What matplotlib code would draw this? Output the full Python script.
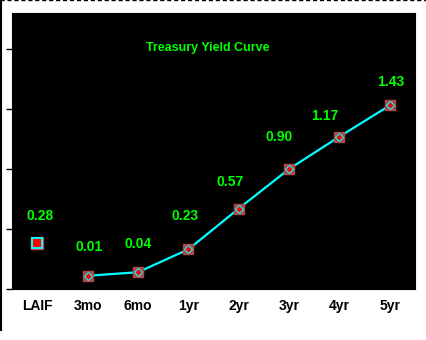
import matplotlib
matplotlib.use("Agg")
import matplotlib.pyplot as plt
from matplotlib.lines import Line2D

plt.rcParams['font.family'] = ['Liberation Sans', 'DejaVu Sans']

# yields in percent
categories = ['LAIF', '3mo', '6mo', '1yr', '2yr', '3yr', '4yr', '5yr']
laif_yield = 0.28
treasury_terms = ['3mo', '6mo', '1yr', '2yr', '3yr', '4yr', '5yr']
treasury_yields = [0.01, 0.04, 0.23, 0.57, 0.90, 1.17, 1.43]

# where each value label sits relative to its point (pixels)
label_offsets = [(3, 27), (2, 29), (0, 28), (-3, 33), (-9, 27), (-10, 32), (-15, 21), (1, 23)]

green = '#00ff00'
cyan = '#00ffff'

fig = plt.figure(figsize=(4.26, 3.4), dpi=100)
ax = fig.add_axes([12 / 426, 51 / 340, 403 / 426, 276 / 340])
ax.set_facecolor('black')
for s in ax.spines.values():
    s.set_color('black')

xpos = {c: i for i, c in enumerate(categories)}
tx = [xpos[t] for t in treasury_terms]

# treasury curve
ax.plot(tx, treasury_yields, color=cyan, lw=1.6, zorder=2)
ax.plot(tx, treasury_yields, 's', ms=7, mfc='#b04848', mec='#b04848', zorder=3)
ax.plot(tx, treasury_yields, 'D', ms=4.5, mfc='red', mec=cyan, mew=0.8, zorder=4)

# LAIF point on its own
ax.plot([xpos['LAIF']], [laif_yield], 's', ms=9, mfc='#c04848', mec='#c04848', zorder=3)
ax.plot([xpos['LAIF']], [laif_yield], 's', ms=7, mfc='red', mec=cyan, mew=1.4, zorder=4)

values = [laif_yield] + treasury_yields
for i, (v, off) in enumerate(zip(values, label_offsets)):
    ax.annotate(f'{v:.2f}', (i, v), xytext=off, textcoords='offset pixels',
                ha='center', va='center', color=green, fontsize=10,
                fontweight='bold')

ax.text(0.485, 0.875, 'Treasury Yield Curve', transform=ax.transAxes,
        ha='center', va='center', color=green, fontsize=9, fontweight='bold')

ax.set_xlim(-0.5, 7.5)
ax.set_ylim(-0.1, 2.2)
ax.set_xticks(range(len(categories)))
ax.set_xticklabels(categories, fontsize=10, fontweight='bold')
ax.tick_params(axis='x', length=0, pad=7)
ax.set_yticks([-0.1, 0.4, 0.9, 1.4, 1.9])
ax.set_yticklabels([])
ax.tick_params(axis='y', length=4, width=1, color='black')

# outer frame lines
fig.add_artist(Line2D([0, 1], [0.999, 0.999], transform=fig.transFigure,
                      color='black', lw=1, ls=(0, (3, 2))))
fig.add_artist(Line2D([0.002, 0.002], [0.03, 1], transform=fig.transFigure,
                      color='black', lw=1.5))

fig.savefig('out.png', dpi=100, facecolor='white')
